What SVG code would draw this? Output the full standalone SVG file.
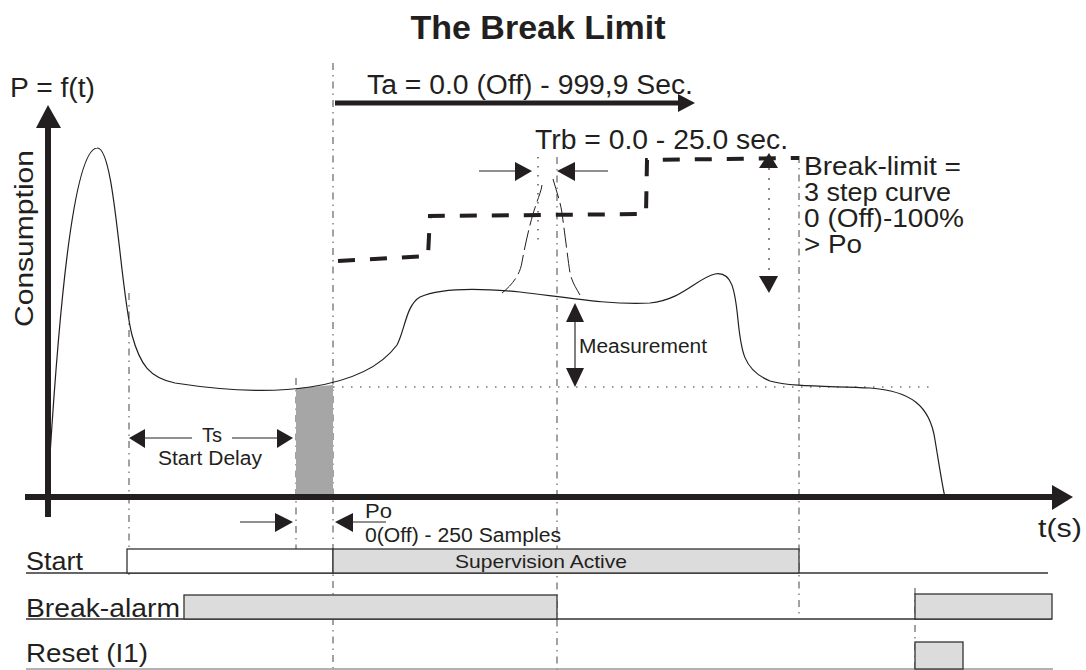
<svg xmlns="http://www.w3.org/2000/svg" width="1086" height="670" viewBox="0 0 1086 670">
<style>
text{font-family:"Liberation Sans",Arial,sans-serif;fill:#231f20}
.dd{stroke:#444;stroke-width:1;fill:none;stroke-dasharray:7 5 1.5 5}
.dot{stroke:#333;stroke-width:1.2;fill:none;stroke-dasharray:1.5 7.5}
.thin{stroke:#231f20;stroke-width:1.2;fill:none}
.ar{fill:#231f20}
.box{fill:#dcdcdc;stroke:#333;stroke-width:1.3}
.row{stroke:#333;stroke-width:1.5}
</style>
<rect width="1086" height="670" fill="#fff"/>

<g id="title"><text x="538" y="39" font-size="33" font-weight="bold" text-anchor="middle" textLength="255" lengthAdjust="spacingAndGlyphs">The Break Limit</text></g>

<g id="guides">
<line class="dd" x1="333" y1="63" x2="333" y2="670"/>
<line class="dd" x1="129" y1="293" x2="129" y2="575"/>
<line class="dd" x1="296" y1="378" x2="296" y2="572"/>
<line class="dd" x1="557" y1="157" x2="557" y2="670"/>
<line class="dot" x1="538" y1="157" x2="538" y2="240"/>
<line class="dd" x1="799" y1="156" x2="799" y2="618"/>
<line class="dd" x1="915" y1="588" x2="915" y2="670"/>
<line class="dot" x1="333" y1="387" x2="930" y2="387"/>
</g>

<g id="sample-window"><path d="M296,388 C310,387 322,386 333,385 L333,497 L296,497 Z" fill="#a6a6a6"/></g>

<g id="axes">
<rect x="45" y="125" width="6" height="392" fill="#231f20"/>
<polygon class="ar" points="36,128 48,105 61,128"/>
<rect x="25" y="494" width="1030" height="6" fill="#231f20"/>
<polygon class="ar" points="1052,485 1073,497 1052,510"/>
<text x="10" y="97" font-size="27" textLength="85" lengthAdjust="spacingAndGlyphs">P = f(t)</text>
<text transform="translate(33,327) rotate(-90)" font-size="25" textLength="177" lengthAdjust="spacingAndGlyphs">Consumption</text>
<text x="1038" y="537" font-size="26" textLength="44" lengthAdjust="spacingAndGlyphs">t(s)</text>
</g>

<g id="consumption-curve">
<path class="thin" d="M50,455 C58,330 72,150 97,148 C115,146 120,290 132,335 C140,365 150,378 175,383 C220,390 270,393 310,387 C350,381 380,368 397,345 C405,330 406,305 420,297 C440,288 480,288 520,292 C570,298 610,305 650,303 C682,300 697,278 715,274 C732,271 735,290 738,320 C741,350 743,370 770,381 C790,387 830,386 870,388 C910,391 930,405 935,440 C940,470 943,490 945,497"/>
<path d="M502,293 C512,285 520,275 522,262 C526,240 532,215 536,205 C538,198 541,192 542,185" stroke="#231f20" stroke-width="1" fill="none" stroke-dasharray="20 5"/>
<path d="M553,179 C556,190 560,200 562,213 C565,235 568,260 570,273 C572,282 576,288 580,295" stroke="#231f20" stroke-width="1" fill="none" stroke-dasharray="20 5"/>
</g>

<g id="break-limit-curve">
<path d="M338,261 L428,256 L430,216 L646,214 L647,160 L799,158" stroke="#231f20" stroke-width="4" fill="none" stroke-dasharray="17 15"/>
</g>

<g id="ta-label">
<text x="367" y="94" font-size="27" textLength="326" lengthAdjust="spacingAndGlyphs">Ta = 0.0 (Off) - 999,9 Sec.</text>
</g>
<g id="trb-label">
<text x="535" y="149" font-size="27" textLength="253" lengthAdjust="spacingAndGlyphs">Trb = 0.0 - 25.0 sec.</text>
</g>
<g id="break-limit-label" font-size="25">
<text x="804" y="175" textLength="157" lengthAdjust="spacingAndGlyphs">Break-limit =</text>
<text x="804" y="201" textLength="147" lengthAdjust="spacingAndGlyphs">3 step curve</text>
<text x="804" y="227" textLength="160" lengthAdjust="spacingAndGlyphs">0 (Off)-100%</text>
<text x="804" y="253" textLength="58" lengthAdjust="spacingAndGlyphs">&gt; Po</text>
</g>
<g id="measurement-label"><text x="579" y="353" font-size="20" textLength="128" lengthAdjust="spacingAndGlyphs">Measurement</text></g>
<g id="ts-label">
<text x="202" y="442" font-size="20" textLength="20" lengthAdjust="spacingAndGlyphs">Ts</text>
<text x="158" y="465" font-size="20" textLength="104" lengthAdjust="spacingAndGlyphs">Start Delay</text>
</g>
<g id="po-label">
<text x="365" y="518" font-size="20" textLength="27" lengthAdjust="spacingAndGlyphs">Po</text>
<text x="365" y="542" font-size="20" textLength="196" lengthAdjust="spacingAndGlyphs">0(Off) - 250 Samples</text>
</g>

<g id="connectors">
<line x1="335" y1="103" x2="680" y2="103" stroke="#231f20" stroke-width="5"/>
<polygon class="ar" points="678,94 695,103 678,112"/>
<line x1="479" y1="171" x2="516" y2="171" class="thin"/>
<polygon class="ar" points="515,162 532,171 515,181"/>
<line x1="574" y1="171" x2="608" y2="171" class="thin"/>
<polygon class="ar" points="575,162 557,171 575,181"/>
<line x1="769" y1="168" x2="769" y2="276" stroke="#666" stroke-width="1.5" stroke-dasharray="2 8"/>
<polygon class="ar" points="759,168 769,153 778,168"/>
<polygon class="ar" points="759,276 769,293 778,276"/>
<line x1="575" y1="320" x2="575" y2="370" stroke="#808080" stroke-width="2"/>
<polygon class="ar" points="566,322 575,303 584,322"/>
<polygon class="ar" points="566,368 575,387 584,368"/>
<line x1="145" y1="438" x2="192" y2="438" class="thin"/>
<line x1="232" y1="438" x2="278" y2="438" class="thin"/>
<polygon class="ar" points="145,429 129,438 145,448"/>
<polygon class="ar" points="277,429 293,438 277,448"/>
<line x1="240" y1="522" x2="276" y2="522" class="thin"/>
<polygon class="ar" points="275,513 293,522 275,532"/>
<line x1="352" y1="522" x2="386" y2="522" class="thin"/>
<polygon class="ar" points="353,513 335,522 353,532"/>
</g>

<g id="row-start">
<line class="row" x1="26" y1="573" x2="1048" y2="573"/>
<rect x="127" y="549" width="206" height="24" fill="#fff" stroke="#333" stroke-width="1.3"/>
<rect class="box" x="333" y="549" width="466" height="24"/>
<text x="26" y="570" font-size="26" textLength="57" lengthAdjust="spacingAndGlyphs">Start</text>
<text x="541" y="568" font-size="19" text-anchor="middle" textLength="172" lengthAdjust="spacingAndGlyphs">Supervision Active</text>
</g>
<g id="row-break-alarm">
<line class="row" x1="26" y1="619" x2="1052" y2="619"/>
<rect class="box" x="184" y="595" width="373" height="24"/>
<rect class="box" x="915" y="594" width="137" height="25"/>
<text x="26" y="617" font-size="26" textLength="154" lengthAdjust="spacingAndGlyphs">Break-alarm</text>
</g>
<g id="row-reset">
<line x1="26" y1="669" x2="1053" y2="669" stroke="#999" stroke-width="1.5"/>
<rect class="box" x="915" y="642" width="48" height="27"/>
<text x="26" y="662" font-size="26" textLength="122" lengthAdjust="spacingAndGlyphs">Reset (I1)</text>
</g>
</svg>
